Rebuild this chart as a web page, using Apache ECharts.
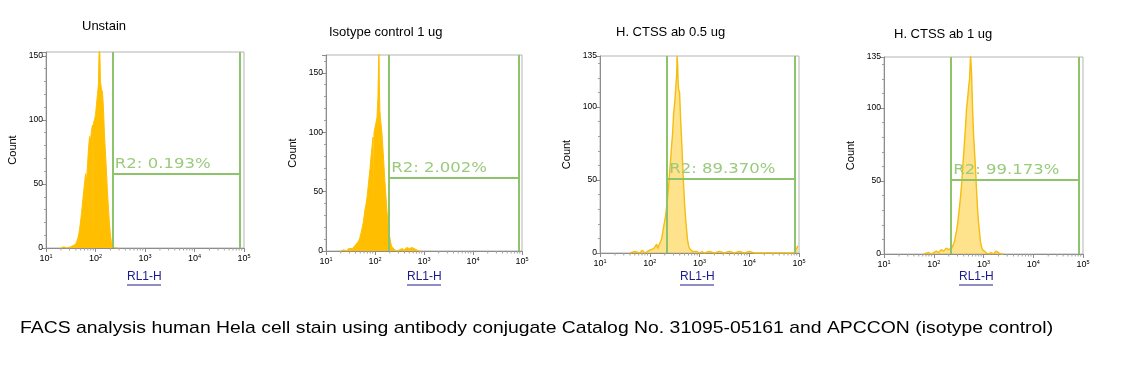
<!DOCTYPE html>
<html><head><meta charset="utf-8">
<script src="https://cdn.jsdelivr.net/npm/echarts@6/dist/echarts.min.js"></script>
<style>html,body{margin:0;padding:0;background:#fff}#c{width:1142px;height:371px}</style>
</head><body><div id="c"></div>
<script>
// ---------- data ----------
const panelTitles = ['Unstain', 'Isotype control 1 ug', 'H. CTSS ab 0.5 ug', 'H. CTSS ab 1 ug'];
const footerText = 'FACS analysis human Hela cell stain using antibody conjugate Catalog No. 31095-05161 and APCCON (isotype control)';
const xAxisName = 'RL1-H';
const yAxisName = 'Count';
const gateLabels = ['R2: 0.193%', 'R2: 2.002%', 'R2: 89.370%', 'R2: 99.173%'];
const gateLeftLog = [2.35, 2.29, 2.35, 2.35];
const gateRightLog = [4.91, 4.93, 4.92, 4.91];
const gateLevel = [58, 62, 51, 51];
const yMax = [153, 165, 135, 135];
const yInterval = 50;
const xMin = 10, xMax = 100000;
const xDecades = [10, 100, 1000, 10000];
const minorMultipliers = [2, 3, 4, 5, 6, 7, 8, 9];

const p1Log = [1.30,1.36,1.42,1.46,1.50,1.55,1.60,1.63,1.66,1.69,1.72,1.75,1.78,1.80,1.82,1.84,1.86,1.88,1.90,1.92,1.94,1.95,1.96,1.98,2.00,2.02,2.04,2.06,2.07,2.08,2.09,2.10,2.12,2.14,2.16,2.18,2.20,2.22,2.24,2.26,2.28,2.30,2.32,2.34,2.38,2.42,2.46];
const p1Count = [0,1,0,1,1,2,3,6,10,18,28,40,51,58,52,66,78,87,84,92,96,3,98,100,104,112,120,128,150,160,150,130,124,122,110,90,75,61,45,32,20,11,5,1,1,0,0];

const p2Log = [1.30,1.36,1.42,1.46,1.50,1.54,1.57,1.60,1.63,1.66,1.69,1.72,1.74,1.76,1.78,1.80,1.82,1.84,1.86,1.88,1.90,1.92,1.94,1.96,1.97,1.98,2.00,2.02,2.04,2.06,2.07,2.08,2.09,2.10,2.11,2.12,2.14,2.16,2.18,2.20,2.22,2.24,2.26,2.28,2.30,2.32,2.34,2.37,2.40,2.45,2.50,2.55,2.60,2.65,2.70,2.75,2.80,2.85,2.90,2.95];
const p2Count = [0,1,0,2,1,2,3,5,4,8,11,16,20,24,30,36,40,46,54,62,70,80,88,96,4,100,104,108,112,130,150,170,140,118,112,108,100,88,74,60,48,36,25,18,12,7,4,3,1,0,1,2,1,3,2,3,2,1,0,0];

const p3Log = [1.60,1.70,1.80,1.85,1.90,1.95,2.00,2.04,2.08,2.11,2.14,2.16,2.18,2.20,2.22,2.24,2.26,2.28,2.30,2.32,2.34,2.36,2.38,2.40,2.42,2.44,2.46,2.48,2.50,2.52,2.54,2.55,2.56,2.57,2.58,2.60,2.62,2.64,2.66,2.68,2.70,2.72,2.74,2.76,2.78,2.80,2.83,2.86,2.90,2.95,3.00,3.05,3.10,3.20,3.30,3.40,3.50,3.60,3.70,3.80,3.90,4.00,4.10,4.50,4.90,4.95,4.98];
const p3Count = [0,1,0,2,0,1,2,1,3,2,6,3,5,4,8,10,14,18,22,26,32,38,46,56,64,74,82,96,102,112,122,135,130,118,112,110,92,78,62,47,34,24,16,9,5,3,2,1,2,1,0,1,0,1,0,1,0,1,0,1,0,1,0,0,0,3,5];

const p4Log = [1.80,1.90,1.95,2.00,2.05,2.10,2.15,2.20,2.25,2.30,2.33,2.36,2.38,2.40,2.42,2.44,2.46,2.48,2.50,2.52,2.54,2.56,2.58,2.60,2.62,2.64,2.66,2.68,2.70,2.72,2.73,2.74,2.75,2.76,2.78,2.80,2.82,2.84,2.86,2.88,2.90,2.92,2.94,2.96,2.98,3.00,3.05,3.10,3.15,3.20,3.25,3.30,3.35,3.40];
const p4Count = [0,1,0,1,2,1,3,2,4,3,4,4,5,7,9,13,16,21,27,33,40,48,58,68,78,88,100,106,114,120,128,136,130,124,100,82,70,58,44,31,22,15,8,5,3,2,1,0,1,0,2,1,0,0];

const histLogs = [p1Log, p2Log, p3Log, p4Log];
const histCounts = [p1Count, p2Count, p3Count, p4Count];

// ---------- layout ----------
const grids = [
  {left: 46, top: 52, width: 198, height: 196},
  {left: 326, top: 55, width: 196, height: 196},
  {left: 600, top: 56, width: 199, height: 197},
  {left: 884, top: 57, width: 199, height: 197}
];
const titlePos = [[82, 20], [329, 26], [616, 26], [894, 28]];
const nameCenters = [144, 424, 697, 976];
const filled = [true, true, false, false];

const GREEN = '#8dc36a';
const GREEN_TEXT = '#9acb7c';
const ORANGE = '#ffbf00';
const FONT = 'Liberation Sans, Arial, sans-serif';

const minorVals = [];
xDecades.forEach(d => minorMultipliers.forEach(m => minorVals.push([d * m, 0])));

const baseGraphics = [];
nameCenters.forEach(cx => {
  baseGraphics.push({type: 'text', x: cx - 17, y: 271, style: {text: xAxisName, font: '12px ' + FONT, fill: '#1c1c8a'}});
  baseGraphics.push({type: 'line', shape: {x1: cx - 17, y1: 285, x2: cx + 17, y2: 285}, style: {stroke: '#1c1c8a', lineWidth: 1}});
});
baseGraphics.push({type: 'text', x: 20, y: 320, scaleX: 1.14, style: {text: footerText, font: '17px ' + FONT, fill: '#000'}});

const option = {
  animation: false,
  backgroundColor: '#fff',
  title: panelTitles.map((t, i) => ({
    text: t, left: titlePos[i][0], top: titlePos[i][1], padding: 0,
    textStyle: {fontSize: 13, fontWeight: 'normal', fontFamily: FONT, color: '#000'}
  })),
  grid: grids.map(g => Object.assign({show: true, borderColor: '#b4b4b4', borderWidth: 1, backgroundColor: '#fff'}, g)),
  xAxis: grids.map((g, i) => ({
    type: 'log', logBase: 10, gridIndex: i, min: xMin, max: xMax,
    axisLine: {show: true, lineStyle: {color: '#8c8c8c', width: 1}},
    axisTick: {show: true, length: 4, lineStyle: {color: '#8c8c8c'}},
    minorTick: {show: false},
    splitLine: {show: false},
    axisLabel: {
      margin: 5,
      formatter: v => '{b|10}{s|' + Math.round(Math.log10(v)) + '}',
      rich: {
        b: {fontSize: 9, fontFamily: FONT, color: '#000'},
        s: {fontSize: 5.5, fontFamily: FONT, color: '#000', verticalAlign: 'top', padding: [0, 0, 6, 0]}
      }
    }
  })),
  yAxis: grids.map((g, i) => ({
    type: 'value', gridIndex: i, min: 0, max: yMax[i], interval: yInterval,
    name: yAxisName, nameLocation: 'middle', nameGap: 28, nameRotate: 90,
    nameTextStyle: {fontSize: 11, fontFamily: FONT, color: '#000'},
    axisLine: {show: true, lineStyle: {color: '#8c8c8c', width: 1}},
    axisTick: {show: true, length: 4, lineStyle: {color: '#8c8c8c'}},
    minorTick: {show: true, splitNumber: 5, length: 2, lineStyle: {color: '#a0a0a0'}},
    splitLine: {show: false},
    axisLabel: {fontSize: 8.5, fontFamily: FONT, color: '#000', margin: 3,
      showMaxLabel: yMax[i] < 140}
  })),
  graphic: baseGraphics,
  series: []
};

grids.forEach((g, i) => {
  const L = Math.pow(10, gateLeftLog[i]);
  const R = Math.pow(10, gateRightLog[i]);
  option.series.push({
    type: 'line', xAxisIndex: i, yAxisIndex: i,
    data: histLogs[i].map((lx, k) => [Math.pow(10, lx), histCounts[i][k]]),
    showSymbol: false, symbol: 'none', clip: true,
    lineStyle: {color: filled[i] ? ORANGE : '#f5bd10', width: filled[i] ? 1 : 1.4},
    areaStyle: {color: ORANGE, opacity: filled[i] ? 1 : 0.45},
    z: 2,
    markLine: {
      silent: true, symbol: ['none', 'none'], animation: false,
      lineStyle: {color: GREEN, width: 2, type: 'solid'},
      label: {show: false},
      emphasis: {disabled: true},
      data: [
        [{coord: [L, 0]}, {coord: [L, yMax[i]]}],
        [{coord: [R, 0]}, {coord: [R, yMax[i]]}],
        [{coord: [L, gateLevel[i]]}, {coord: [R, gateLevel[i]]}]
      ]
    }
  });
  option.series.push({
    type: 'custom', xAxisIndex: i, yAxisIndex: i, clip: false, silent: true, z: 1,
    data: minorVals,
    renderItem: (params, api) => {
      const p = api.coord([api.value(0), 0]);
      return {type: 'line', shape: {x1: p[0], y1: p[1], x2: p[0], y2: p[1] + 2.5},
        style: {stroke: '#a0a0a0', lineWidth: 1}};
    }
  });
});

const chart = echarts.init(document.getElementById('c'), null, {renderer: 'canvas'});
chart.setOption(option);

// gate labels positioned through the axes
const gateGraphics = gateLabels.map((t, i) => {
  const p = chart.convertToPixel({gridIndex: i}, [Math.pow(10, gateLeftLog[i]), gateLevel[i]]);
  return {type: 'text', x: p[0] + 2, y: p[1] - 2, scaleX: 1.18, z: 10,
    style: {text: t, font: '14px DejaVu Sans, Verdana, sans-serif', fill: GREEN_TEXT, verticalAlign: 'bottom'}};
});
chart.setOption({graphic: baseGraphics.concat(gateGraphics)});
</script>
</body></html>
